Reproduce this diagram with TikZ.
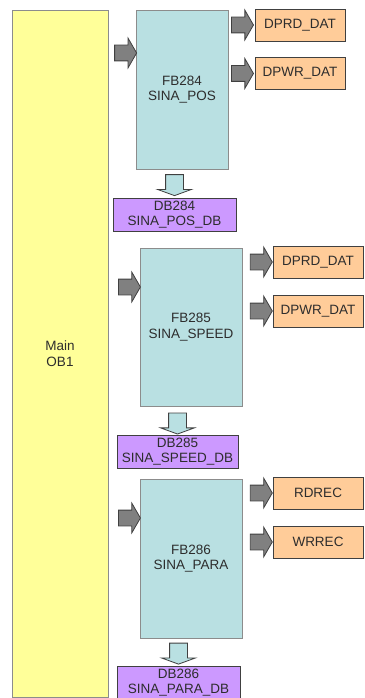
\documentclass[tikz,border=0pt]{standalone}
\usepackage{fontspec}
\setmainfont{Liberation Sans}
\usepackage{tikz}
\usetikzlibrary{positioning,shapes.arrows,calc}
\usepackage{xcolor}
\definecolor{MainYellow}{RGB}{255,255,153}
\definecolor{FBCyan}{RGB}{185,224,226}
\definecolor{CallOrange}{RGB}{255,204,153}
\definecolor{DBPurple}{RGB}{204,153,255}
\definecolor{ArrowGray}{RGB}{128,128,128}
\definecolor{EdgeGray}{RGB}{140,140,140}
\definecolor{EdgeDark}{RGB}{64,64,64}
\definecolor{TextGray}{RGB}{45,45,45}

\begin{document}
\begin{tikzpicture}[x=1pt, y=-1pt,
    blockfont/.style={font=\fontsize{13.5}{15.5}\selectfont, text=TextGray},
    mainbox/.style={rectangle, draw=EdgeGray, fill=MainYellow, line width=0.8pt,
                 minimum width=96pt, minimum height=687pt, align=center, blockfont},
    fbbox/.style={rectangle, draw=EdgeGray, fill=FBCyan, line width=0.8pt,
                 minimum width=102pt, minimum height=158pt, align=center, blockfont},
    dbbox/.style={rectangle, draw=EdgeDark, fill=DBPurple, line width=0.8pt,
                 minimum width=122pt, minimum height=33pt, inner sep=1pt, align=center, blockfont},
    callbox/.style={rectangle, draw=EdgeDark, fill=CallOrange, line width=0.8pt,
                 minimum width=90pt, minimum height=32pt, align=center, blockfont},
    rightarr/.style={single arrow, draw=EdgeDark, fill=ArrowGray, line width=0.8pt,
                 minimum height=22pt, inner xsep=0pt, inner ysep=7.5pt,
                 single arrow head extend=7pt, single arrow tip angle=120},
    downarr/.style={single arrow, draw=EdgeDark, fill=FBCyan, line width=0.8pt, rotate=-90,
                 minimum height=21pt, inner xsep=0pt, inner ysep=8.5pt,
                 single arrow head extend=8pt, single arrow tip angle=140}
]
    \useasboundingbox (0,0) rectangle (364,698);
    \node[mainbox] (main) at (60,353.5) {Main\\OB1};

    % FB284
    \node[fbbox, minimum width=92pt, minimum height=159pt] (fb284) at (182,89.5) {FB284\\SINA\_POS};
    \node[dbbox, minimum width=123pt] (db284) at (174.5,214.5) {DB284\\SINA\_POS\_DB};
    \node[callbox] (rd284) at (300,25) {DPRD\_DAT};
    \node[callbox] (wr284) at (300,73.5) {DPWR\_DAT};
    \node[rightarr] (in284) at ($(main.east |- 0,53)!0.55!(fb284.west |- 0,53)$) {};
    \node[rightarr] (ord284) at ($(fb284.east |- rd284)!0.45!(rd284.west)$) {};
    \node[rightarr] (owr284) at ($(fb284.east |- wr284)!0.45!(wr284.west)$) {};
    \node[downarr] (out284) at ($(fb284.south -| db284.north)!0.5!(db284.north)$) {};

    % FB285
    \node[fbbox] (fb285) at (191,327) {FB285\\SINA\_SPEED};
    \node[dbbox, minimum width=121pt] (db285) at (177.5,451.5) {DB285\\SINA\_SPEED\_DB};
    \node[callbox] (rd285) at (318,262) {DPRD\_DAT};
    \node[callbox] (wr285) at (318,311) {DPWR\_DAT};
    \node[rightarr] (in285) at ($(main.east |- 0,287)!0.6!(fb285.west |- 0,287)$) {};
    \node[rightarr] (ord285) at ($(fb285.east |- rd285)!0.55!(rd285.west)$) {};
    \node[rightarr] (owr285) at ($(fb285.east |- wr285)!0.55!(wr285.west)$) {};
    \node[downarr] (out285) at ($(fb285.south -| db285.north)!0.55!(db285.north)$) {};

    % FB286
    \node[fbbox, minimum height=159pt] (fb286) at (191,558.5) {FB286\\SINA\_PARA};
    \node[dbbox, minimum width=123pt] (db286) at (178.5,682.5) {DB286\\SINA\_PARA\_DB};
    \node[callbox] (rd286) at (318,493) {RDREC};
    \node[callbox] (wr286) at (318,542) {WRREC};
    \node[rightarr] (in286) at ($(main.east |- 0,518)!0.6!(fb286.west |- 0,518)$) {};
    \node[rightarr] (ord286) at ($(fb286.east |- rd286)!0.55!(rd286.west)$) {};
    \node[rightarr] (owr286) at ($(fb286.east |- wr286)!0.55!(wr286.west)$) {};
    \node[downarr] (out286) at ($(fb286.south -| db286.north)!0.5!(db286.north)$) {};
\end{tikzpicture}
\end{document}
